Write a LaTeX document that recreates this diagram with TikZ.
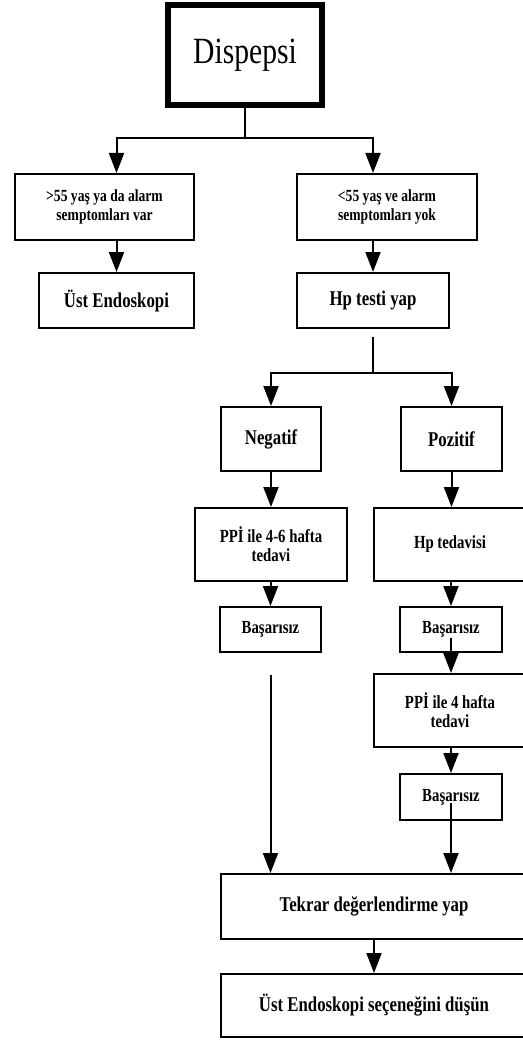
\documentclass[tikz,border=0pt]{standalone}
\usepackage{fontspec}
\setmainfont{Liberation Serif}
\newfontfamily\tallfont[FakeStretch=0.8]{Liberation Serif}
\usetikzlibrary{arrows.meta}
\tikzstyle{box}=[%
	draw, rectangle, line width=2pt, align=center, inner sep=0,
	font=\tallfont\bfseries\fontsize{21}{21}\selectfont
]
\tikzstyle{mid}=[font=\tallfont\bfseries\fontsize{18.5}{19}\selectfont]
\tikzstyle{small}=[font=\tallfont\bfseries\fontsize{17}{19}\selectfont]
\tikzstyle{arr}=[line width=2pt, -{Triangle[length=20pt, width=15pt]}]

\begin{document}
\begin{tikzpicture}[x=1pt, y=-1pt]
	\useasboundingbox[fill=white] (0,0) rectangle (522,1043);

	\node[box, line width=6pt, minimum width=154pt, minimum height=100pt,
		font=\tallfont\fontsize{37}{40}\selectfont] (disp) at (245,55) {Dispepsi};

	\node[box, small, minimum width=179pt, minimum height=66pt] (ileri) at (104.5,207) {>55 yaş ya da alarm\\semptomları var};
	\node[box, small, minimum width=180pt, minimum height=66pt] (genc) at (387,207) {<55 yaş ve alarm\\semptomları yok};

	\node[box, minimum width=155pt, minimum height=55pt] (endo) at (116.5,300.5) {Üst Endoskopi};
	\node[box, minimum width=152pt, minimum height=55pt] (hptest) at (373,300.5) {Hp testi yap};

	\node[box, minimum width=100pt, minimum height=64pt] (neg) at (271,439) {Negatif};
	\node[box, minimum width=101pt, minimum height=64pt] (poz) at (451.5,439) {Pozitif};

	\node[box, mid, minimum width=152pt, minimum height=73pt] (ppiA) at (271,544.5) {PPİ ile 4-6 hafta\\tedavi};
	\node[box, mid, minimum width=152pt, minimum height=73pt] (hptd) at (450,544.5) {Hp tedavisi};

	\node[box, mid, minimum width=101pt, minimum height=45pt] (basA) at (270.5,629.5) {Başarısız};
	\node[box, mid, minimum width=102pt, minimum height=45pt] (basB) at (451,629.5) {Başarısız};

	\node[box, mid, minimum width=152pt, minimum height=73pt] (ppiB) at (450,710.5) {PPİ ile 4 hafta\\tedavi};
	\node[box, mid, minimum width=102pt, minimum height=46pt] (basC) at (451,797) {Başarısız};

	\node[box, minimum width=306pt, minimum height=65pt] (tekrar) at (374,906.5) {Tekrar değerlendirme yap};
	\node[box, minimum width=306pt, minimum height=63pt] (endoson) at (374,1005.5) {Üst Endoskopi seçeneğini düşün};

	% ilk ayrim
	\coordinate (dsplit) at (245,138);
	\draw[line width=2pt] (disp.south) -- (dsplit);
	\draw[arr] (dsplit) -| (endo |- ileri.north);
	\draw[arr] (dsplit) -| (hptest |- genc.north);
	\draw[arr] (ileri.south -| endo) -- (endo.north);
	\draw[arr] (genc.south -| hptest) -- (hptest.north);

	% Hp testi sonucu
	\coordinate (hsplit) at (373,373);
	\draw[line width=2pt] (hptest.south) ++(0,8) -- (hsplit);
	\draw[arr] (hsplit) -| (neg.north);
	\draw[arr] (hsplit) -| (poz.north);

	\draw[arr] (neg.south) -- (ppiA.north);
	\draw[arr] (ppiA.south -| basA) -- (basA.north);
	\draw[arr] (basA.south) ++(0,22) -- (basA.south |- tekrar.north);

	\draw[arr] (poz.south) -- (poz.south |- hptd.north);
	\draw[arr] (hptd.south -| basB) -- (basB.north);
	\draw[arr] (basB.center) ++(0,8) -- (basB.center |- ppiB.north);
	\draw[arr] (ppiB.south -| basC) -- (basC.north);
	\draw[arr] (basC.center) ++(0,6) -- (basC.center |- tekrar.north);

	\draw[arr] (tekrar.south) -- (endoson.north);
\end{tikzpicture}
\end{document}
